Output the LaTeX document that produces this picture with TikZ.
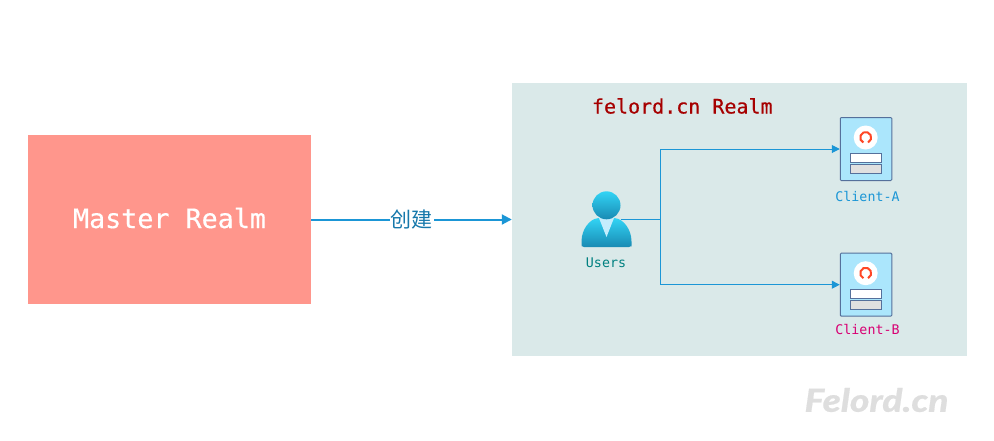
\documentclass[tikz,border=0pt]{standalone}
\usepackage{fontspec}
\setmainfont{DejaVu Sans}
\setmonofont{DejaVu Sans Mono}
\newfontfamily\cjk{Noto Sans CJK SC}
\newfontfamily\brandfont[FakeStretch=1.16, FakeBold=0.5]{Lato Black Italic}
\newfontfamily\titlefont[FakeBold=0.4]{DejaVu Sans Mono}
\usetikzlibrary{arrows.meta}
\definecolor{masterred}{HTML}{FF968C}
\definecolor{realmgreen}{HTML}{DAE9E9}
\definecolor{linkblue}{HTML}{1B96D6}
\definecolor{iconblue}{HTML}{ABE6FC}
\definecolor{iconedge}{HTML}{55709B}
\definecolor{usertop}{HTML}{32D4F5}
\definecolor{userbottom}{HTML}{198AB3}
\definecolor{clientpink}{HTML}{D80073}
\tikzset{
	realmtext/.style={font=\ttfamily\fontsize{#1}{#1}\selectfont},
	titletext/.style={font=\titlefont\fontsize{#1}{#1}\selectfont},
	link/.style={draw=linkblue, line width=1pt, -{Triangle[length=8pt, width=8pt]}},
	formbox/.style={draw=iconedge, line width=1pt, minimum width=31pt, minimum height=9pt, inner sep=0pt},
	usershade/.style={top color=usertop, bottom color=userbottom}
}

\begin{document}
\begin{tikzpicture}[x=1pt, y=-1pt]
		\useasboundingbox (0,0) rectangle (994,440);
		
		\node [fill=masterred, minimum width=283pt, minimum height=169pt, inner sep=0pt] (master) at (169.5,219.5) {};
		\node [text=white, titletext=26.7] (master title) at (169.5,218) {Master Realm};
		\node [fill=realmgreen, minimum width=455pt, minimum height=273pt, inner sep=0pt] (realm) at (739.5,219.5) {};
		\node [text=red!65!black, titletext=20] (realm title) at (682.3,106) {felord.cn Realm};
		
		\draw [linkblue, line width=2pt, -{Triangle[length=10pt, width=10pt]}] (master) -- (realm)
			node [midway, fill=white, inner xsep=1pt, inner ysep=0pt, text=linkblue!80!black, font=\cjk\fontsize{21}{21}\selectfont] (create) {创建};
		
		% the user
		\node [minimum size=28pt, inner sep=0pt] (users) at (606.5,219.5) {};
		\shade [usershade, rounded corners=2.5pt]
			(581.5,247) -- (581.5,244) .. controls (581.5,229) and (590,219) .. (600,218) -- (613,218)
			.. controls (623,219) and (631.5,229) .. (631.5,244) -- (631.5,247) -- cycle;
		\fill [iconblue!70!white] (599,218) -- (614,218) -- (606.5,237) -- cycle;
		\shade [usershade] (606.5,205.3) circle [radius=14pt];
		\node [text=teal, realmtext=13.3] (users text) at (606,262.5) {Users};
		
		% the two clients
		\foreach \name/\y/\ty/\col/\txt in {client a/149/196/linkblue/Client-A, client b/284.7/329/clientpink/Client-B}
		{
			\node [draw=iconedge, fill=iconblue, line width=1pt, rounded corners=1pt, minimum width=51.5pt, minimum height=63pt, inner sep=0pt] (\name) at (866,\y) {};
			\fill [white] (865.7,\y-11.5) circle [radius=12pt];
			\draw [red!70!orange!85, line width=2pt] (865.7,\y-11.5) ++(-65:5.5pt) arc [start angle=-65, end angle=245, radius=5.5pt];
			\node [formbox, fill=white] (\name\space top) at (866,\y+9) {};
			\node [formbox, fill=black!12] (\name\space bottom) at (866,\y+20) {};
			\node [text=\col, realmtext=13.3] (\name\space text) at (867.5,\ty) {\txt};
		}
		
		\coordinate (branch) at (660.5,219.5);
		\draw [linkblue, line width=1pt] (users.east) -- (branch);
		\draw [link] (branch) |- (client a);
		\draw [link] (branch) |- (client b);
		
		\node [text=black!13, font=\brandfont\fontsize{32}{32}\selectfont] (brand) at (876.5,400) {Felord.cn};
		
	\end{tikzpicture}
\end{document}
